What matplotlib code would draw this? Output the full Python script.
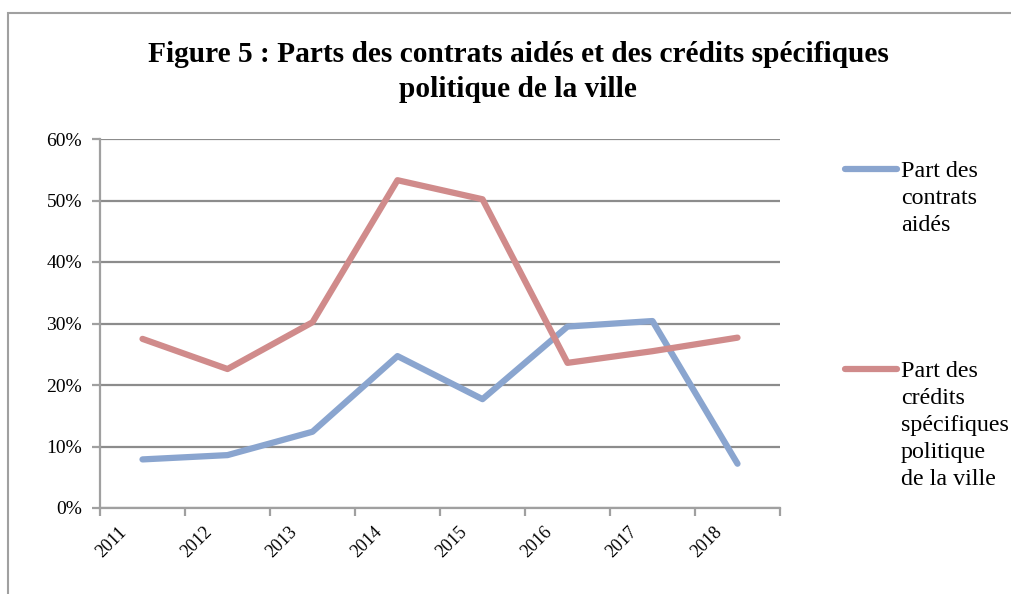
import matplotlib
matplotlib.use("Agg")
import matplotlib.pyplot as plt
import matplotlib.transforms as mtransforms
from matplotlib.patches import Rectangle
from matplotlib.ticker import FixedLocator, PercentFormatter

years = ["2011", "2012", "2013", "2014", "2015", "2016", "2017", "2018"]
contrats_aides = [7.9, 8.6, 12.4, 24.7, 17.7, 29.5, 30.4, 7.2]
credits_politique_ville = [27.5, 22.6, 30.2, 53.3, 50.2, 23.6, 25.5, 27.7]
series_labels = ["Part des\ncontrats\naidés", "Part des\ncrédits\nspécifiques\npolitique\nde la ville"]
title = "Figure 5 : Parts des contrats aidés et des crédits spécifiques\npolitique de la ville"

plt.rcParams['font.family'] = ['Liberation Serif', 'DejaVu Serif']

W, H = 1012, 594
fig = plt.figure(figsize=(W / 100, H / 100), dpi=100)

# outer chart frame
fig.patches.append(Rectangle((8 / W, -0.1), 1.2, 1 - 13 / H + 0.1, transform=fig.transFigure,
                             fill=False, edgecolor='#a0a0a0', linewidth=1.5))

left, right, top, bottom = 100, 780, 139, 508
ax = fig.add_axes([left / W, 1 - bottom / H, (right - left) / W, (bottom - top) / H])

x = list(range(len(years)))
blue = '#8aa5cf'
red = '#d08b8b'
l1, = ax.plot(x, contrats_aides, color=blue, lw=4.5, solid_capstyle='round', solid_joinstyle='round')
l2, = ax.plot(x, credits_politique_ville, color=red, lw=4.5, solid_capstyle='round', solid_joinstyle='round')

ax.set_xlim(-0.5, len(years) - 0.5)
ax.set_ylim(0, 60)
ax.yaxis.set_major_locator(FixedLocator([0, 10, 20, 30, 40, 50, 60]))
ax.yaxis.set_major_formatter(PercentFormatter(decimals=0))
ax.grid(axis='y', color='#8c8c8c', lw=1.6)
ax.set_axisbelow(True)

for s in ['top', 'right']:
    ax.spines[s].set_visible(False)
for s in ['left', 'bottom']:
    ax.spines[s].set_color('#a0a0a0')
    ax.spines[s].set_linewidth(1.6)

ax.tick_params(axis='y', length=6, width=1.6, color='#a0a0a0', labelsize=14, pad=7)
ax.set_xticks([i - 0.5 for i in range(len(years) + 1)], minor=False)
ax.set_xticklabels([])
ax.tick_params(axis='x', which='major', length=6, width=1.6, color='#a0a0a0')
ax.set_xticks(x, minor=True)
ax.set_xticklabels(years, minor=True, rotation=45, fontsize=13, ha='center', va='top')
ax.tick_params(axis='x', which='minor', length=0, pad=11)
offset = mtransforms.ScaledTranslation(-0.31, 0, fig.dpi_scale_trans)
for lab in ax.xaxis.get_minorticklabels():
    lab.set_transform(lab.get_transform() + offset)

fig.text(518 / W, 1 - 72 / H, title, ha='center', va='center', fontsize=21.2,
         fontweight='bold', linespacing=1.42)

# legend
for line, lab, yl in [(l1, series_labels[0], 169), (l2, series_labels[1], 369)]:
    fig.lines.append(plt.Line2D([845 / W, 897 / W], [1 - yl / H] * 2, transform=fig.transFigure,
                                color=line.get_color(), lw=4.5, solid_capstyle='round'))
    fig.text(901 / W, 1 - (yl - 8) / H, lab, ha='left', va='top', fontsize=17.3, linespacing=1.37)

fig.savefig("out.png", dpi=100)
